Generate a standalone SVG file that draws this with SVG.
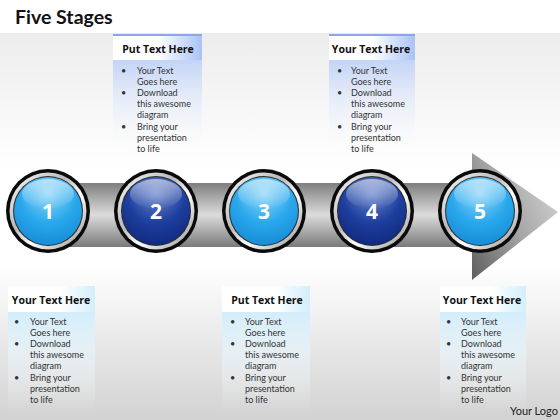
<svg xmlns="http://www.w3.org/2000/svg" width="560" height="420" viewBox="0 0 560 420">
<defs>
<linearGradient id="bg" x1="0" y1="0" x2="0" y2="1">
<stop offset="0" stop-color="#ececec"/>
<stop offset="0.35" stop-color="#ffffff"/>
<stop offset="0.6" stop-color="#ffffff"/>
<stop offset="1" stop-color="#d2d2d2"/>
</linearGradient>
<linearGradient id="shaft" x1="0" y1="0" x2="0" y2="1">
<stop offset="0" stop-color="#7e7e7e"/>
<stop offset="0.5" stop-color="#dcdcdc"/>
<stop offset="1" stop-color="#7a7a7a"/>
</linearGradient>
<linearGradient id="head" x1="0" y1="1" x2="1" y2="0.3">
<stop offset="0" stop-color="#5e5e5e"/>
<stop offset="0.55" stop-color="#a6a6a6"/>
<stop offset="1" stop-color="#d0d0d0"/>
</linearGradient>
<linearGradient id="silver" x1="0" y1="0" x2="1" y2="1">
<stop offset="0" stop-color="#ffffff"/>
<stop offset="0.4" stop-color="#b8b8b8"/>
<stop offset="0.6" stop-color="#ffffff"/>
<stop offset="1" stop-color="#8a8a8a"/>
</linearGradient>
<radialGradient id="light" cx="0.5" cy="0.25" r="0.85">
<stop offset="0" stop-color="#8ed6fa"/>
<stop offset="0.5" stop-color="#29a8ec"/>
<stop offset="1" stop-color="#1186d2"/>
</radialGradient>
<radialGradient id="dark" cx="0.5" cy="0.25" r="0.85">
<stop offset="0" stop-color="#6a86cc"/>
<stop offset="0.5" stop-color="#1e3f9e"/>
<stop offset="1" stop-color="#0c2478"/>
</radialGradient>
<linearGradient id="gloss" x1="0" y1="0" x2="0" y2="1">
<stop offset="0" stop-color="#ffffff" stop-opacity="0.55"/>
<stop offset="1" stop-color="#ffffff" stop-opacity="0"/>
</linearGradient>
<linearGradient id="topTitle" x1="0" y1="0" x2="1" y2="0">
<stop offset="0" stop-color="#ffffff"/>
<stop offset="0.5" stop-color="#ffffff"/>
<stop offset="1" stop-color="#a9c2f5"/>
</linearGradient>
<linearGradient id="topBody" x1="0" y1="0" x2="0" y2="1">
<stop offset="0" stop-color="#c3d4f7"/>
<stop offset="1" stop-color="#ffffff" stop-opacity="0"/>
</linearGradient>
<linearGradient id="botTitle" x1="0" y1="0" x2="1" y2="0">
<stop offset="0" stop-color="#ffffff"/>
<stop offset="0.6" stop-color="#ffffff"/>
<stop offset="1" stop-color="#d3eefb"/>
</linearGradient>
<linearGradient id="botBody" x1="0" y1="0" x2="0" y2="1">
<stop offset="0" stop-color="#d2edfb"/>
<stop offset="1" stop-color="#ffffff" stop-opacity="0"/>
</linearGradient>
</defs>
<style>
.title{font-family:Lato,"Open Sans",sans-serif;font-weight:bold;font-size:19.5px;fill:#111}
.bt{font-family:"Open Sans",Lato,sans-serif;font-weight:bold;font-size:10.5px;fill:#111;text-anchor:middle}
.tx{font-family:Lato,"Open Sans",sans-serif;font-size:9px;fill:#333}
.num{font-family:"Open Sans",Lato,sans-serif;font-weight:bold;font-size:21px;fill:#fff;text-anchor:middle}
.logo{font-family:Lato,"Open Sans",sans-serif;font-size:11px;fill:#222}
</style>
<rect x="0" y="0" width="560" height="420" fill="#ffffff"/>
<rect x="0" y="33" width="560" height="387" fill="url(#bg)"/>
<text class="title" x="15" y="24">Five Stages</text>

<g id="connectors">
<rect x="48" y="183" width="428" height="64" fill="url(#shaft)"/>
<polygon points="472,153 558,212 472,280" fill="url(#head)"/>
</g>

<g id="box1">
<rect x="8" y="286" width="87" height="26" fill="url(#botTitle)"/>
<rect x="8" y="312" width="87" height="98" fill="url(#botBody)"/>
<text class="bt" x="51" y="304">Your Text Here</text>
<g class="tx"><text x="14" y="325">•</text><text x="14" y="347">•</text><text x="14" y="381">•</text>
<text x="30" y="325">Your Text</text><text x="30" y="336">Goes here</text><text x="30" y="347">Download</text><text x="30" y="358">this awesome</text><text x="30" y="369">diagram</text><text x="30" y="381">Bring your</text><text x="30" y="392">presentation</text><text x="30" y="403">to life</text></g>
</g>
<g id="box2">
<rect x="113" y="34" width="89" height="2" fill="#8aa6e6"/>
<rect x="113" y="36" width="89" height="24" fill="url(#topTitle)"/>
<rect x="113" y="60" width="89" height="96" fill="url(#topBody)"/>
<text class="bt" x="158" y="53">Put Text Here</text>
<g class="tx"><text x="121" y="74">•</text><text x="121" y="96">•</text><text x="121" y="130">•</text>
<text x="137" y="74">Your Text</text><text x="137" y="85">Goes here</text><text x="137" y="96">Download</text><text x="137" y="107">this awesome</text><text x="137" y="118">diagram</text><text x="137" y="130">Bring your</text><text x="137" y="141">presentation</text><text x="137" y="152">to life</text></g>
</g>
<g id="box3">
<rect x="222" y="286" width="88" height="26" fill="url(#botTitle)"/>
<rect x="222" y="312" width="88" height="98" fill="url(#botBody)"/>
<text class="bt" x="267" y="304">Put Text Here</text>
<g class="tx"><text x="230" y="325">•</text><text x="230" y="347">•</text><text x="230" y="381">•</text>
<text x="245" y="325">Your Text</text><text x="245" y="336">Goes here</text><text x="245" y="347">Download</text><text x="245" y="358">this awesome</text><text x="245" y="369">diagram</text><text x="245" y="381">Bring your</text><text x="245" y="392">presentation</text><text x="245" y="403">to life</text></g>
</g>
<g id="box4">
<rect x="329" y="34" width="86" height="2" fill="#8aa6e6"/>
<rect x="329" y="36" width="86" height="24" fill="url(#topTitle)"/>
<rect x="329" y="60" width="86" height="96" fill="url(#topBody)"/>
<text class="bt" x="371" y="53">Your Text Here</text>
<g class="tx"><text x="337" y="74">•</text><text x="337" y="96">•</text><text x="337" y="130">•</text>
<text x="351" y="74">Your Text</text><text x="351" y="85">Goes here</text><text x="351" y="96">Download</text><text x="351" y="107">this awesome</text><text x="351" y="118">diagram</text><text x="351" y="130">Bring your</text><text x="351" y="141">presentation</text><text x="351" y="152">to life</text></g>
</g>
<g id="box5">
<rect x="440" y="286" width="86" height="26" fill="url(#botTitle)"/>
<rect x="440" y="312" width="86" height="98" fill="url(#botBody)"/>
<text class="bt" x="482" y="304">Your Text Here</text>
<g class="tx"><text x="446" y="325">•</text><text x="446" y="347">•</text><text x="446" y="381">•</text>
<text x="461" y="325">Your Text</text><text x="461" y="336">Goes here</text><text x="461" y="347">Download</text><text x="461" y="358">this awesome</text><text x="461" y="369">diagram</text><text x="461" y="381">Bring your</text><text x="461" y="392">presentation</text><text x="461" y="403">to life</text></g>
</g>

<g id="stage1">
<circle cx="48" cy="211" r="42" fill="#0a0a0a"/>
<circle cx="48" cy="211" r="38.5" fill="url(#silver)"/>
<circle cx="48" cy="211" r="35" fill="#2a2a2a"/>
<circle cx="48" cy="211" r="34" fill="url(#light)"/>
<ellipse cx="48" cy="194" rx="26" ry="15" fill="url(#gloss)"/>
<text class="num" x="48" y="219">1</text>
</g>
<g id="stage2">
<circle cx="156" cy="211" r="42" fill="#0a0a0a"/>
<circle cx="156" cy="211" r="38.5" fill="url(#silver)"/>
<circle cx="156" cy="211" r="35" fill="#2a2a2a"/>
<circle cx="156" cy="211" r="34" fill="url(#dark)"/>
<ellipse cx="156" cy="194" rx="26" ry="15" fill="url(#gloss)"/>
<text class="num" x="156" y="219">2</text>
</g>
<g id="stage3">
<circle cx="264" cy="211" r="42" fill="#0a0a0a"/>
<circle cx="264" cy="211" r="38.5" fill="url(#silver)"/>
<circle cx="264" cy="211" r="35" fill="#2a2a2a"/>
<circle cx="264" cy="211" r="34" fill="url(#light)"/>
<ellipse cx="264" cy="194" rx="26" ry="15" fill="url(#gloss)"/>
<text class="num" x="264" y="219">3</text>
</g>
<g id="stage4">
<circle cx="372" cy="211" r="42" fill="#0a0a0a"/>
<circle cx="372" cy="211" r="38.5" fill="url(#silver)"/>
<circle cx="372" cy="211" r="35" fill="#2a2a2a"/>
<circle cx="372" cy="211" r="34" fill="url(#dark)"/>
<ellipse cx="372" cy="194" rx="26" ry="15" fill="url(#gloss)"/>
<text class="num" x="372" y="219">4</text>
</g>
<g id="stage5">
<circle cx="480" cy="211" r="42" fill="#0a0a0a"/>
<circle cx="480" cy="211" r="38.5" fill="url(#silver)"/>
<circle cx="480" cy="211" r="35" fill="#2a2a2a"/>
<circle cx="480" cy="211" r="34" fill="url(#light)"/>
<ellipse cx="480" cy="194" rx="26" ry="15" fill="url(#gloss)"/>
<text class="num" x="480" y="219">5</text>
</g>
<text class="logo" x="510" y="415">Your Logo</text>
</svg>
